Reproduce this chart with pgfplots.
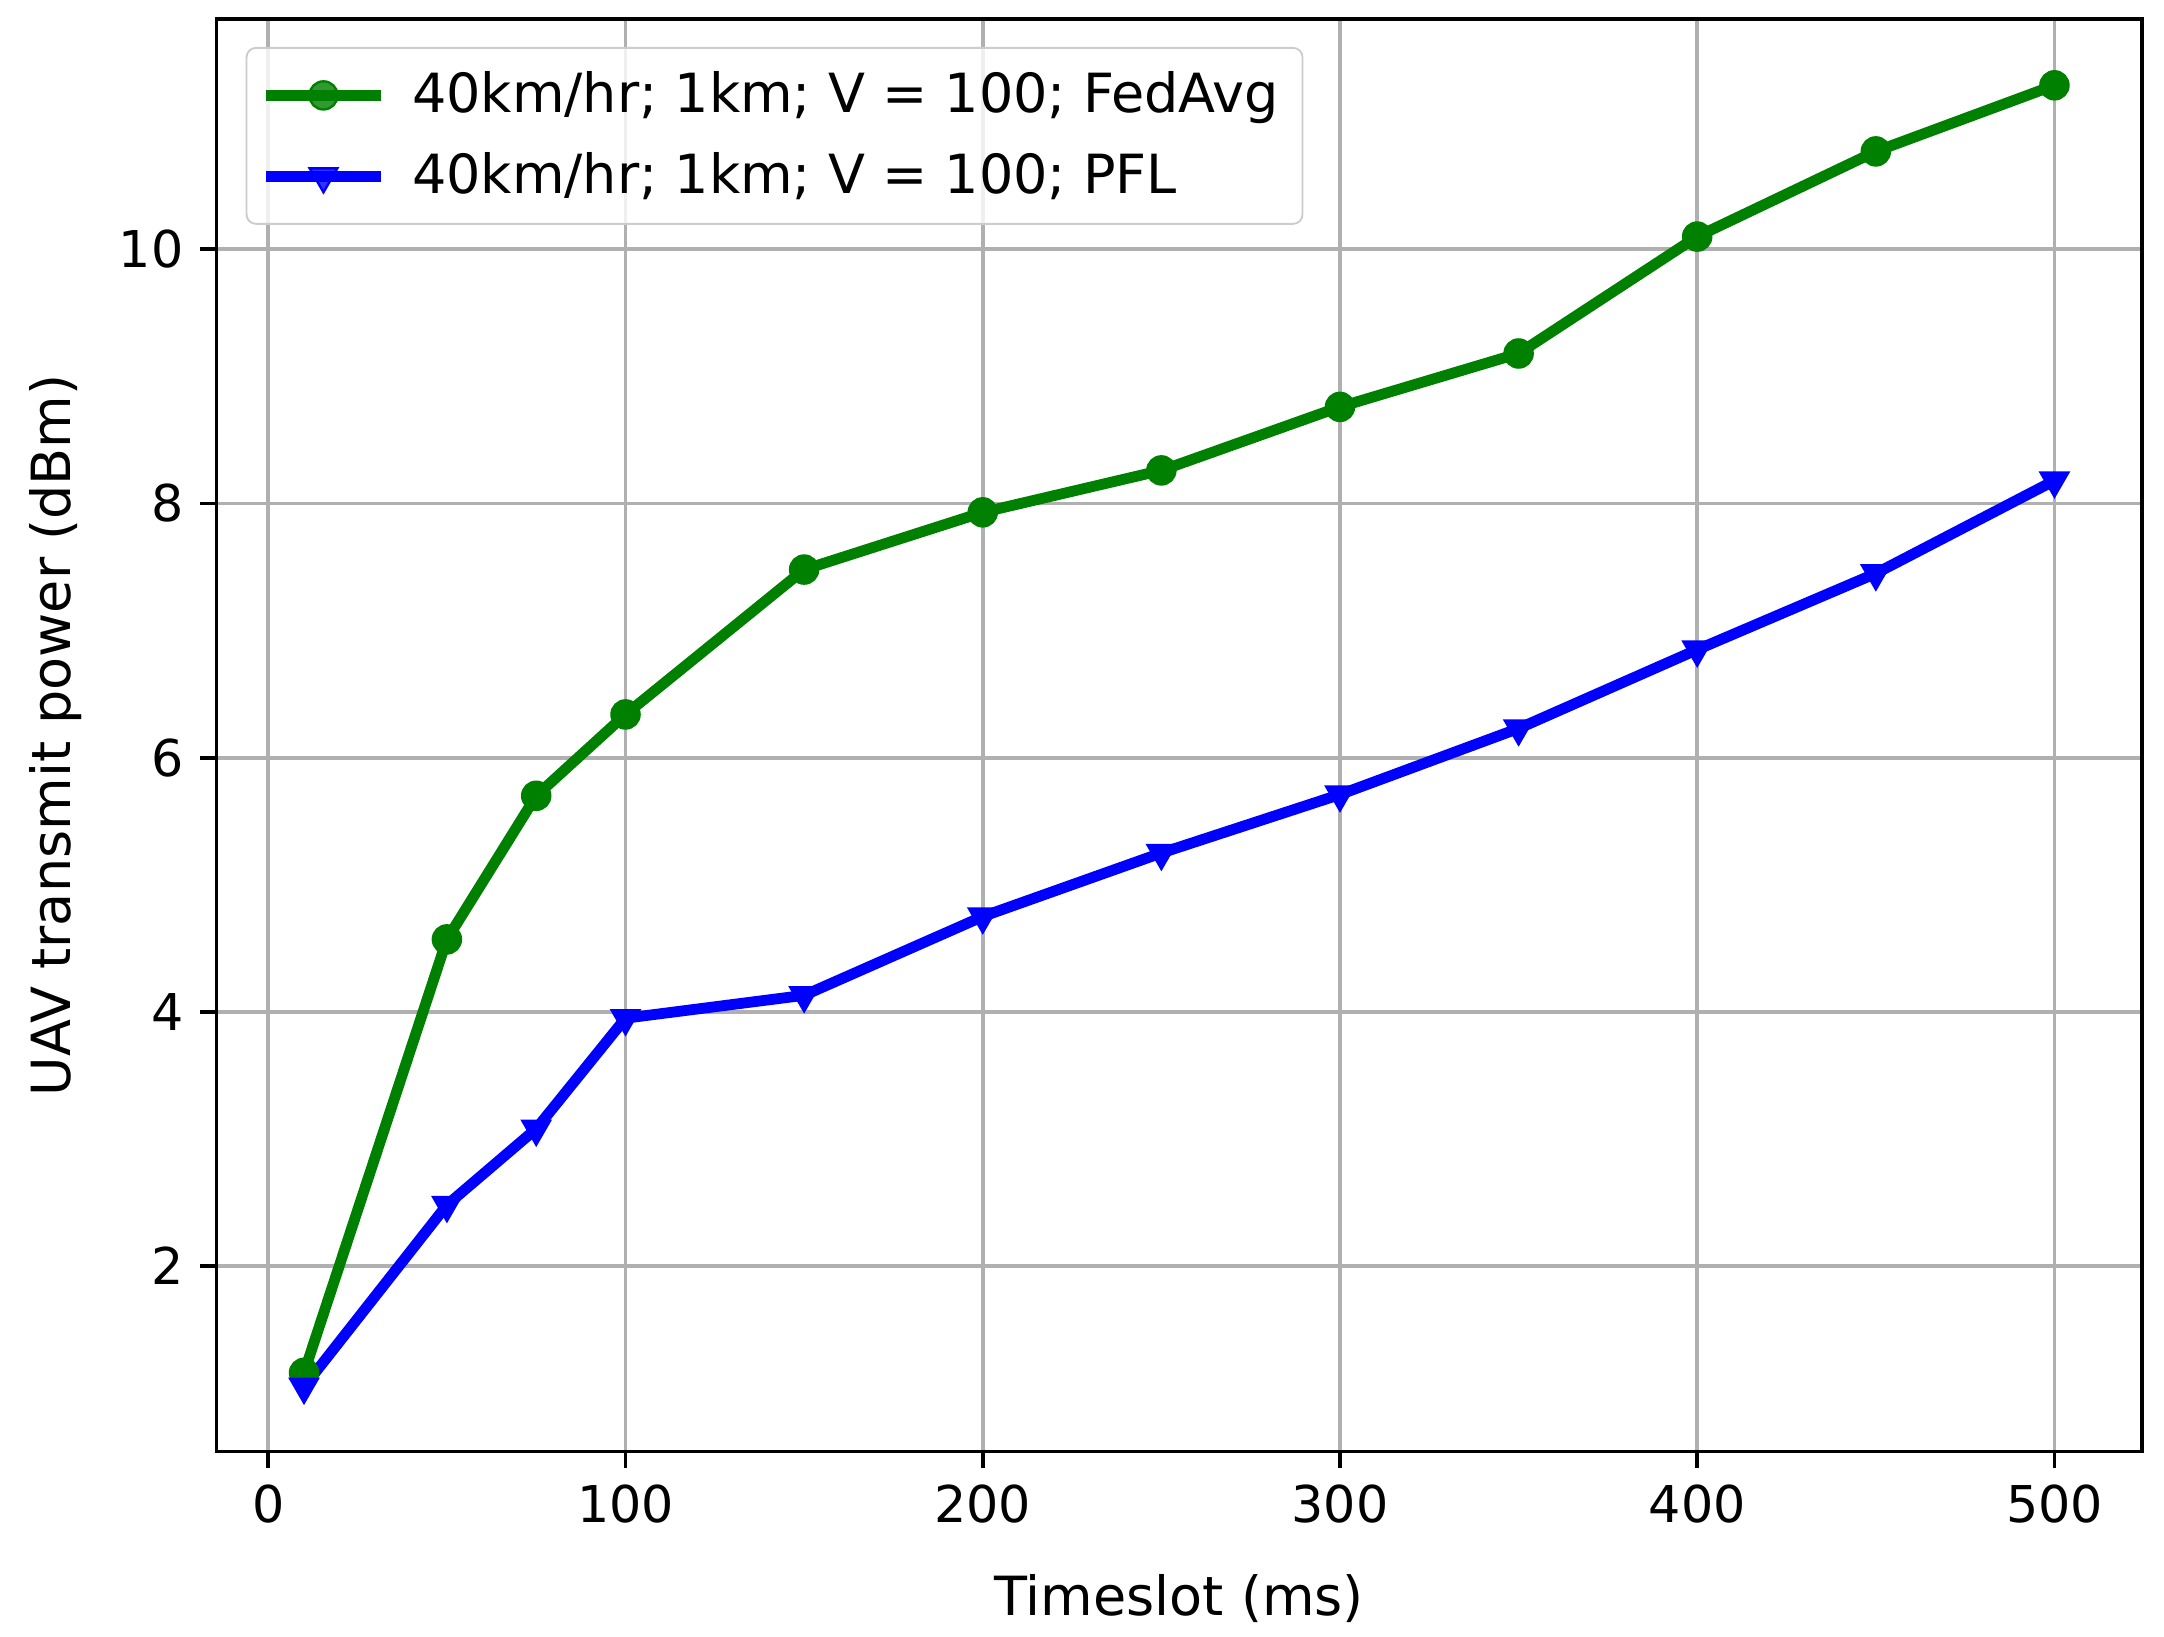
\documentclass[border=0pt]{standalone}
\usepackage{pgfplots}
\pgfplotsset{compat=1.18}
\usepackage{fontspec}
\setmainfont{DejaVu Sans}
\definecolor{mplgreen}{RGB}{0,128,0}
\definecolor{mplblue}{RGB}{0,0,255}
\definecolor{gridgray}{RGB}{176,176,176}
\begin{document}
\begin{tikzpicture}[font=\fontsize{10.8}{13}\selectfont]
\path[use as bounding box] (0,0) rectangle (460.8pt,348.4pt);
\begin{axis}[
  at={(46.1pt,39.3pt)}, anchor=south west,
  scale only axis, width=410pt, height=305pt,
  xmin=-14.5, xmax=524.5, ymin=0.54, ymax=11.81,
  xtick={0,100,...,500}, ytick={2,4,6,8,10},
  grid=major, grid style={color=gridgray, line width=0.8pt},
  axis line style={line width=0.8pt},
  tick style={black, line width=0.8pt}, tick align=outside, tick pos=left,
  major tick length=3.5pt,
  /pgf/number format/assume math mode=true,
  ticklabel style={font=\fontsize{10.8}{13}\selectfont},
  xlabel={Timeslot (ms)}, ylabel={UAV transmit power (dBm)},
  label style={font=\fontsize{11.5}{14}\selectfont},
  xlabel style={yshift=-4pt},
  ylabel style={yshift=1pt},
  legend style={at={(0,1)}, anchor=north west, xshift=6.2pt, yshift=-5.9pt,
    draw=black!20, rounded corners=2pt, fill=white, fill opacity=0.8, text opacity=1,
    font=\fontsize{11.5}{14}\selectfont, row sep=3pt, inner xsep=3pt, inner ysep=3pt,
    /tikz/every odd column/.append style={column sep=3.5pt}},
  legend cell align=left,
  legend image code/.code={\draw[mark repeat=2,mark phase=2] plot coordinates {(0cm,0cm)(0.43cm,0cm)(0.86cm,0cm)};},
]
\addplot[mplgreen, line width=2.3pt, mark=*, mark size=3pt, mark options={solid, line width=0.5pt}] coordinates {
(10,1.16) (50,4.57) (75,5.70) (100,6.34) (150,7.48) (200,7.93) (250,8.26) (300,8.76) (350,9.18) (400,10.10) (450,10.77) (500,11.29)
};
\addlegendentry{40km/hr; 1km; V = 100; FedAvg}
\addplot[mplblue, line width=2.3pt, mark=triangle*, mark size=3.4pt, mark options={solid, rotate=180, line width=0.5pt}] coordinates {
(10,1.05) (50,2.48) (75,3.08) (100,3.95) (150,4.13) (200,4.75) (250,5.25) (300,5.71) (350,6.23) (400,6.85) (450,7.45) (500,8.18)
};
\addlegendentry{40km/hr; 1km; V = 100; PFL}
\end{axis}
\end{tikzpicture}
\end{document}
